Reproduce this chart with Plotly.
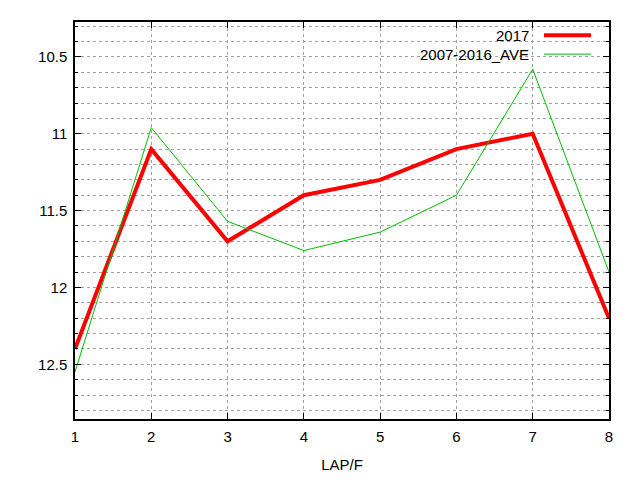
import plotly.graph_objects as go

laps = [1, 2, 3, 4, 5, 6, 7, 8]
y2017 = [12.4, 11.1, 11.7, 11.4, 11.3, 11.1, 11.0, 12.2]
yave = [12.55, 10.96, 11.57, 11.76, 11.64, 11.4, 10.58, 11.9]
names = ["2017", "2007-2016_AVE"]
colors = ["#ff0000", "#00c000"]
widths = [4, 1]

font = dict(family="Liberation Sans, Arial, sans-serif", size=15, color="#000000")

fig = go.Figure()
for ys, nm, c, w in zip([y2017, yave], names, colors, widths):
    fig.add_trace(go.Scatter(x=laps, y=ys, mode="lines", name=nm,
                             line=dict(color=c, width=w), showlegend=False))

grid = dict(showgrid=True, gridcolor="#a0a0a0", griddash="dot", gridwidth=1)
fig.update_xaxes(range=[1, 8], tickvals=laps, ticks="inside", ticklen=6,
                 tickcolor="#000", mirror="ticks", showline=True, linecolor="#000",
                 linewidth=1.5, zeroline=False, ticklabelstandoff=3,
                 title=dict(text="LAP/F", font=font, standoff=16),
                 tickfont=font, **grid)
fig.update_yaxes(range=[12.856, 10.273], tickvals=[10.5, 11, 11.5, 12, 12.5],
                 ticktext=["10.5", "11", "11.5", "12", "12.5"],
                 ticks="inside", ticklen=6, tickcolor="#000", mirror="ticks",
                 showline=True, linecolor="#000", linewidth=1.5, zeroline=False,
                 tickfont=font, ticklabelstandoff=3,
                 minor=dict(dtick=0.1, tick0=10.0, ticks="inside", ticklen=3, tickcolor="#000",
                            showgrid=True, gridcolor="#a0a0a0", griddash="dot", gridwidth=1),
                 **grid)

# gnuplot-style key: text on the left, sample line on the right
for i, (nm, c, w) in enumerate(zip(names, colors, widths)):
    yp = 1 - (13.3 + 19 * i) / 399
    fig.add_annotation(xref="paper", yref="paper", x=(531 - 75) / 534, y=yp,
                       text=nm, showarrow=False, xanchor="right", yanchor="middle",
                       font=font)
    fig.add_shape(type="line", xref="paper", yref="paper",
                  x0=(544 - 75) / 534, x1=(591 - 75) / 534, y0=yp, y1=yp,
                  line=dict(color=c, width=w))

fig.update_layout(width=640, height=480, margin=dict(l=67, r=39, t=12, b=69),
                  plot_bgcolor="#ffffff", paper_bgcolor="#ffffff", font=font,
                  showlegend=False)
fig.write_html("out.html")
